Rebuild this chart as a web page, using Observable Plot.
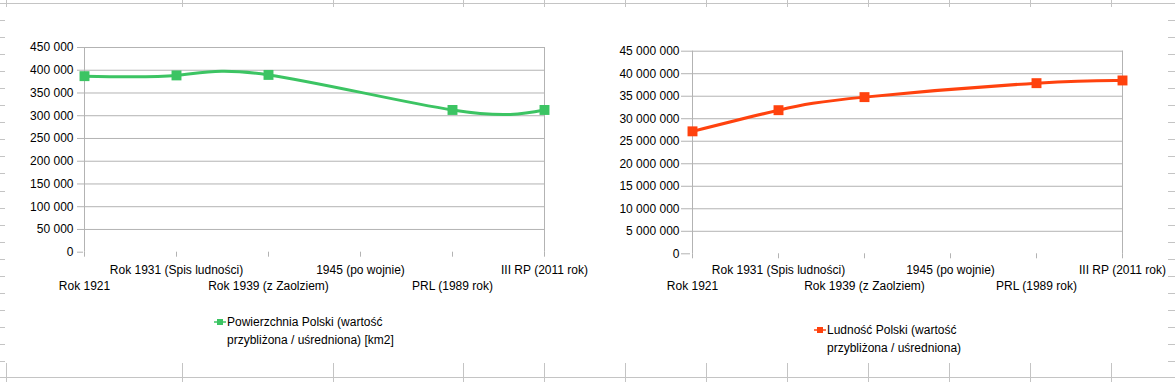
<!DOCTYPE html>
<html><head><meta charset="utf-8">
<script src="https://cdn.jsdelivr.net/npm/d3@7"></script>
<script src="https://cdn.jsdelivr.net/npm/@observablehq/plot@0.6"></script>
<style>
body{margin:0;background:#fff;font-family:"Liberation Sans",Arial,sans-serif;}
#root{position:relative;width:1175px;height:382px;overflow:hidden;background:#fff;}
.hl{position:absolute;height:1px;background:#c4c4c4;}
.vl{position:absolute;width:1px;background:#c4c4c4;}
.chart{position:absolute;top:0;}
.chart svg{overflow:visible;background:transparent;}
.legend{position:absolute;font-size:12px;line-height:18.4px;color:#000;white-space:nowrap;}
.legend .mk{position:absolute;left:0;top:3px;}
.legend .tx{position:absolute;left:13px;top:0;}
</style></head><body><div id="root"></div>
<script>
// ---- data ----
const categories = ["Rok 1921", "Rok 1931 (Spis ludności)", "Rok 1939 (z Zaolziem)", "1945 (po wojnie)", "PRL (1989 rok)", "III RP (2011 rok)"];
const areaValues = [387000, 388634, 389720, null, 312683, 312679];
const populationValues = [27200000, 31900000, 34800000, null, 37900000, 38500000];
const areaTicks = [0, 50000, 100000, 150000, 200000, 250000, 300000, 350000, 400000, 450000];
const populationTicks = [0, 5000000, 10000000, 15000000, 20000000, 25000000, 30000000, 35000000, 40000000, 45000000];
const areaLegend = ["Powierzchnia Polski (wartość", "przybliżona / uśredniona) [km2]"];
const populationLegend = ["Ludność Polski (wartość", "przybliżona / uśredniona)"];

const root = document.getElementById("root");

// ---- spreadsheet cell grid behind the chart objects (decoration) ----
const sheetColumns = [6, 182, 333, 463, 544, 625, 706, 787, 868, 949, 1030, 1111];
function addDiv(cls, css) { const d = document.createElement("div"); d.className = cls; Object.assign(d.style, css); root.appendChild(d); }
addDiv("hl", {left: "0px", top: "3px", width: "1175px"});
addDiv("hl", {left: "0px", top: "377px", width: "1175px"});
for (const c of sheetColumns) {
  addDiv("vl", {left: c + "px", top: "0px", height: "7px"});
  addDiv("vl", {left: c + "px", top: "363px", height: "19px"});
}
for (let y = 20; y < 362; y += 17.05) {
  addDiv("hl", {left: "0px", top: Math.round(y) + "px", width: "5px"});
  addDiv("hl", {left: "1168px", top: Math.round(y) + "px", width: "7px"});
}

const fr = d3.formatLocale({decimal: ",", thousands: " ", grouping: [3], currency: ["", ""]}).format(",d");
const gridColor = "#b3b3b3";

function makeChart({values, ticks, color, left, width, marginLeft, marginRight, marginTop, marginBottom, tickSize, tickPadding, dy1, dy2}) {
  const data = categories.map((c, i) => ({category: c, value: values[i]}));
  const present = data.filter(d => d.value != null);
  const row1 = categories.filter((c, i) => i % 2 === 1);
  const row2 = categories.filter((c, i) => i % 2 === 0);
  const chart = Plot.plot({
    width, height: 300, marginLeft, marginRight, marginTop, marginBottom,
    style: {fontFamily: "'Liberation Sans', Arial, sans-serif", fontSize: "12px", color: "#000", background: "transparent"},
    x: {type: "point", domain: categories, padding: 0, label: null},
    y: {domain: [ticks[0], ticks[ticks.length - 1]], label: null},
    marks: [
      Plot.gridY(ticks.filter(t => t > 0), {stroke: gridColor, strokeOpacity: 1}),
      Plot.ruleX([categories[0], categories[categories.length - 1]], {stroke: gridColor}),
      Plot.axisY({ticks, tickSize, tickPadding, tickFormat: fr, stroke: gridColor, fill: "#000", label: null}),
      Plot.axisX({ticks: categories, tickSize: 5, tickFormat: () => "", stroke: gridColor, label: null}),
      Plot.text(row1, {x: d => d, frameAnchor: "bottom", lineAnchor: "middle", dy: dy1, fill: "#000"}),
      Plot.text(row2, {x: d => d, frameAnchor: "bottom", lineAnchor: "middle", dy: dy2, fill: "#000"}),
      Plot.line(present, {x: "category", y: "value", stroke: color, strokeWidth: 3, curve: "natural"}),
      Plot.dot(present, {x: "category", y: "value", symbol: "square", r: 5.6, fill: color, stroke: null})
    ]
  });
  const wrap = document.createElement("div");
  wrap.className = "chart";
  wrap.style.left = left + "px";
  wrap.appendChild(chart);
  root.appendChild(wrap);
}

function makeLegend(lines, color, left, top) {
  const d = document.createElement("div");
  d.className = "legend";
  d.style.left = left + "px";
  d.style.top = top + "px";
  d.innerHTML = `<svg class="mk" width="12" height="12"><line x1="0" x2="12" y1="6" y2="6" stroke="${color}" stroke-width="1.5"/><rect x="3" y="3" width="6" height="6" fill="${color}"/></svg><div class="tx">${lines.join("<br>")}</div>`;
  root.appendChild(d);
}

makeChart({values: areaValues, ticks: areaTicks, color: "#3cc463", left: 0, width: 600,
  marginLeft: 83, marginRight: 55, marginTop: 47, marginBottom: 48.3, tickSize: 6, tickPadding: 4, dy1: 18.3, dy2: 33.8});
makeChart({values: populationValues, ticks: populationTicks, color: "#ff420e", left: 590, width: 585,
  marginLeft: 100, marginRight: 52, marginTop: 50.7, marginBottom: 46.7, tickSize: 9, tickPadding: 2, dy1: 16.7, dy2: 32.4});

makeLegend(areaLegend, "#3cc463", 214, 313);
makeLegend(populationLegend, "#ff420e", 814, 321);
</script></body></html>
